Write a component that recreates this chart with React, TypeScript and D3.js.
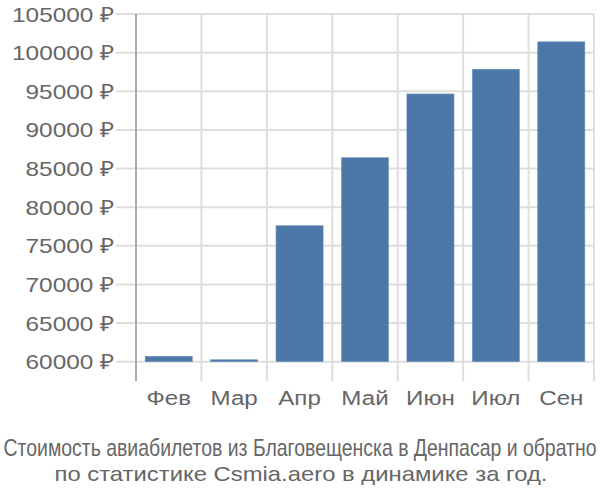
import React from "react";
import * as d3 from "d3";

const categories = ["Фев", "Мар", "Апр", "Май", "Июн", "Июл", "Сен"];
const prices = [60700, 60250, 77600, 86400, 94650, 97850, 101400];
const yTicks = [60000, 65000, 70000, 75000, 80000, 85000, 90000, 95000, 100000, 105000];
const titleLines = [
  "Стоимость авиабилетов из Благовещенска в Денпасар и обратно",
  "по статистике Csmia.aero в динамике за год.",
];

const W = 600;
const H = 500;
const left = 136;
const right = 594;
const top = 14;
const bottom = 381;

export default function App() {
  const x = d3.scaleBand<string>().domain(categories).range([left, right]).paddingInner(0.28).paddingOuter(0.14);
  const y = d3.scaleLinear().domain([57500, 105000]).range([bottom, top]);
  const step = (right - left) / categories.length;
  const bounds = d3.range(categories.length + 1).map((i) => left + i * step);
  const font = "'Liberation Sans', Arimo, Arial, sans-serif";
  return (
    <svg width={W} height={H} style={{ position: "absolute", left: 0, top: 0 }} fontFamily={font}>
      <rect width={W} height={H} fill="#fff" />
      {yTicks.map((t) => (
        <line key={"h" + t} x1={116} x2={right} y1={y(t)} y2={y(t)} stroke="#dedede" strokeWidth={2} />
      ))}
      {bounds.map((bx, i) => (
        <line key={"v" + i} x1={bx} x2={bx} y1={top} y2={bottom} stroke={i === 0 ? "#aaa" : "#dedede"} strokeWidth={2} />
      ))}
      {categories.map((c, i) => (
        <rect
          key={c}
          x={x(c)}
          y={y(prices[i])}
          width={x.bandwidth()}
          height={y(60000) - y(prices[i])}
          fill="#4c78a8"
          stroke="#6f93bc"
          strokeWidth={0.6}
        />
      ))}
      {yTicks.map((t) => (
        <text
          key={"t" + t}
          transform={`translate(114,${y(t)}) scale(1.16,1)`}
          dy="0.36em"
          textAnchor="end"
          fontSize={21}
          fill="#666"
        >
          {t + " ₽"}
        </text>
      ))}
      {categories.map((c) => (
        <text
          key={"c" + c}
          transform={`translate(${(x(c) as number) + x.bandwidth() / 2},405) scale(1.15,1)`}
          textAnchor="middle"
          fontSize={21}
          fill="#666"
        >
          {c}
        </text>
      ))}
      <text x={300} y={456} textAnchor="middle" fontSize={24} fill="#666" textLength={593} lengthAdjust="spacingAndGlyphs">
        {titleLines[0]}
      </text>
      <text x={301} y={481} textAnchor="middle" fontSize={21} fill="#666" textLength={493} lengthAdjust="spacingAndGlyphs">
        {titleLines[1]}
      </text>
    </svg>
  );
}
